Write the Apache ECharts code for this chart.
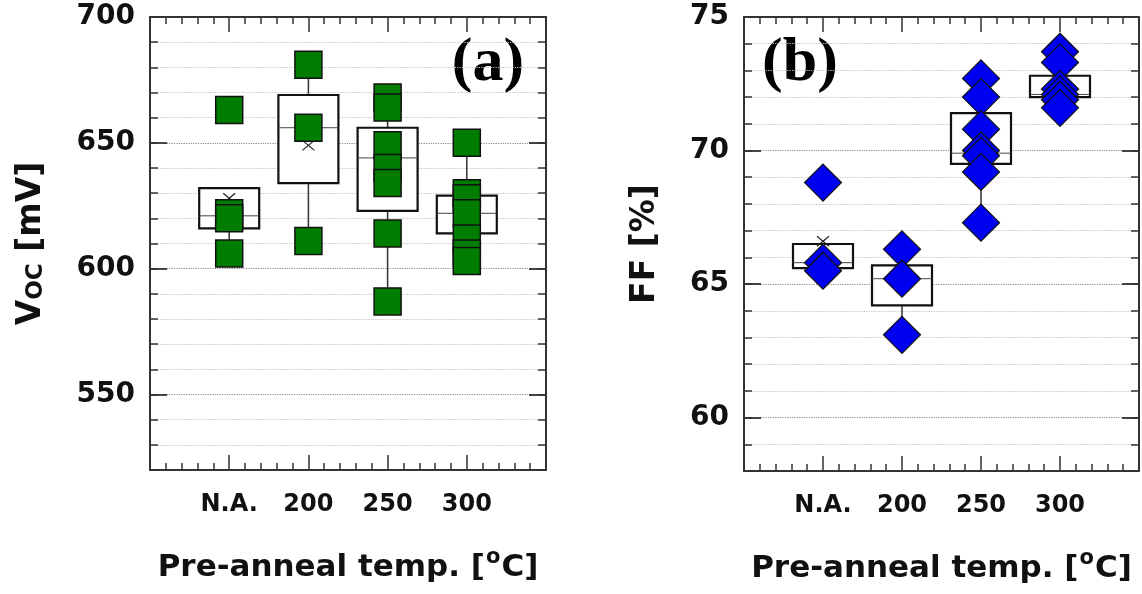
<!DOCTYPE html>
<html><head><meta charset="utf-8">
<script src="https://cdn.jsdelivr.net/npm/echarts@6/dist/echarts.min.js"></script>
<style>html,body{margin:0;padding:0;background:#fff}#c{width:1142px;height:594px}</style>
</head><body><div id="c"></div>
<script>
// ---- data ----
const categories = ['N.A.', '200', '250', '300'];
// Voc [mV] individual cells
const vocPoints = [
  [663, 622, 620, 606],
  [681, 656, 611],
  [668, 664, 649, 640, 634, 614, 587],
  [650, 630, 628, 622, 612, 606, 603]
];
// box stats: [lower whisker, Q1, median, Q3, upper whisker]
const vocBox = [
  [606, 616, 621, 632, 632],
  [611, 634, 656, 669, 681],
  [587, 623, 644, 656, 668],
  [603, 614, 622, 629, 650]
];
const vocMean = [628, 649, 637, 622];
// FF [%] individual cells
const ffPoints = [
  [68.8, 65.8, 65.5],
  [66.3, 65.2, 63.1],
  [72.7, 72.0, 70.8, 70.0, 69.8, 69.2, 67.3],
  [73.7, 73.3, 72.3, 72.1, 71.9, 71.6]
];
const ffBox = [
  [65.5, 65.6, 65.8, 66.5, 66.5],
  [63.1, 64.2, 65.2, 65.7, 66.3],
  [67.3, 69.5, 69.9, 71.4, 72.7],
  [71.6, 72.0, 72.1, 72.8, 73.7]
];
const ffMean = [66.6, 64.9, 70.2, 72.5];
const vocTickLabels = [550, 600, 650, 700];
const vocMajorTicks = [550, 600, 650];
const ffTickLabels = [60, 65, 70, 75];
const ffMajorTicks = [60, 65, 70];

// ---- build ----
const FONT = '"DejaVu Sans", sans-serif';
const toPts = arr => arr.flatMap((vals, i) => vals.map(v => [i + 1, v]));
const toBox = (box, mean) => box.map((b, i) => [i + 1].concat(b, [mean[i]]));

function boxRender(params, api) {
  const x = api.value(0);
  const lo = api.coord([x, api.value(1)]);
  const q1 = api.coord([x, api.value(2)]);
  const md = api.coord([x, api.value(3)]);
  const q3 = api.coord([x, api.value(4)]);
  const hi = api.coord([x, api.value(5)]);
  const mn = api.coord([x, api.value(6)]);
  const hw = 30, cx = q1[0];
  const wl = {stroke: '#333', lineWidth: 1.5};
  const ml = {stroke: '#222', lineWidth: 1.2};
  return {type: 'group', children: [
    {type: 'line', shape: {x1: cx, y1: q3[1], x2: cx, y2: hi[1]}, style: wl},
    {type: 'line', shape: {x1: cx, y1: q1[1], x2: cx, y2: lo[1]}, style: wl},
    {type: 'rect', shape: {x: cx - hw, y: q3[1], width: 2 * hw, height: q1[1] - q3[1]},
      style: {fill: '#fff', stroke: '#111', lineWidth: 2.2}},
    {type: 'line', shape: {x1: cx - hw, y1: md[1], x2: cx + hw, y2: md[1]}, style: {stroke: '#444', lineWidth: 1}},
    {type: 'line', shape: {x1: cx - 6, y1: mn[1] - 5, x2: cx + 6, y2: mn[1] + 5}, style: ml},
    {type: 'line', shape: {x1: cx - 6, y1: mn[1] + 5, x2: cx + 6, y2: mn[1] - 5}, style: ml}
  ]};
}

const axisLineStyle = {color: '#333', width: 2};
function xAxes(gridIndex) {
  const base = {
    type: 'value', gridIndex, min: 0, max: 5, interval: 1,
    axisLine: {show: true, onZero: false, lineStyle: axisLineStyle},
    axisTick: {show: true, inside: true, length: 15, lineStyle: {color: '#333', width: 1.5}},
    minorTick: {show: true, splitNumber: 5, length: 7, lineStyle: {color: '#333', width: 1.5}},
    splitLine: {show: false}
  };
  return [
    Object.assign({}, base, {
      position: 'bottom',
      axisLabel: {show: true, margin: 23, fontFamily: FONT, fontWeight: 'bold', fontSize: 24, color: '#111',
        formatter: v => (v >= 1 && v <= categories.length) ? categories[v - 1] : ''},
      name: 'Pre-anneal temp. [{sup|o}C]', nameLocation: 'middle', nameGap: 77,
      nameTextStyle: {fontFamily: FONT, fontWeight: 'bold', fontSize: 31, color: '#111',
        rich: {sup: {fontFamily: FONT, fontWeight: 'bold', fontSize: 21, color: '#111', verticalAlign: 'top', padding: [0, 1, 20, 1]}}}
    }),
    Object.assign({}, base, {position: 'top', axisLabel: {show: false}})
  ];
}
function yAxes(gridIndex, min, max, step, labels, majors, gridColors, name, nameGap, rich) {
  const base = {type: 'value', gridIndex, min, max, interval: step};
  const minorTick = {show: true, inside: true, length: 8, lineStyle: {color: '#333', width: 1.5}};
  const majorTick = {show: true, inside: true, length: 17, customValues: majors, lineStyle: {color: '#333', width: 1.8}};
  return [
    Object.assign({}, base, {
      position: 'left',
      axisLine: {show: true, lineStyle: axisLineStyle},
      axisTick: minorTick,
      axisLabel: {show: true, margin: 15, fontFamily: FONT, fontWeight: 'bold', fontSize: 28, color: '#111',
        formatter: v => labels.indexOf(v) >= 0 ? String(v) : ''},
      splitLine: {show: true, lineStyle: {color: gridColors, type: 'dotted', width: 1.2}},
      name, nameLocation: 'middle', nameGap,
      nameTextStyle: {fontFamily: FONT, fontWeight: 'bold', fontSize: 33, color: '#111', rich}
    }),
    Object.assign({}, base, {position: 'left', axisLine: {show: false}, axisTick: majorTick,
      axisLabel: {show: false}, splitLine: {show: false}}),
    Object.assign({}, base, {position: 'right', axisLine: {show: true, lineStyle: axisLineStyle},
      axisTick: minorTick, axisLabel: {show: false}, splitLine: {show: false}}),
    Object.assign({}, base, {position: 'right', axisLine: {show: false}, axisTick: majorTick,
      axisLabel: {show: false}, splitLine: {show: false}})
  ];
}
const L = '#c4c4c4', D = '#8a8a8a';
const option = {
  backgroundColor: '#fff',
  animation: false,
  grid: [
    {left: 150, top: 17, width: 396, height: 453},
    {left: 744, top: 17, width: 395, height: 454}
  ],
  xAxis: xAxes(0).concat(xAxes(1)),
  yAxis: yAxes(0, 520, 700, 10, vocTickLabels, vocMajorTicks, [L, L, L, D, L],
      'V{sub|OC} [mV]', 102,
      {sub: {fontFamily: FONT, fontWeight: 'bold', fontSize: 23, color: '#111', verticalAlign: 'bottom', padding: [9, 0, 0, 0]}})
    .concat(yAxes(1, 58, 75, 1, ffTickLabels, ffMajorTicks, [L, L, D, L, L], 'FF [%]', 82, {})),
  graphic: [
    {type: 'text', x: 488, y: 64, style: {text: '(a)', fontFamily: '"Liberation Serif", serif', fontWeight: 'bold', fontSize: 62, fill: '#000', textAlign: 'center', textVerticalAlign: 'middle'}},
    {type: 'text', x: 800, y: 64, style: {text: '(b)', fontFamily: '"Liberation Serif", serif', fontWeight: 'bold', fontSize: 62, fill: '#000', textAlign: 'center', textVerticalAlign: 'middle'}}
  ],
  series: [
    {type: 'custom', name: 'Voc box', xAxisIndex: 0, yAxisIndex: 0, z: 2, renderItem: boxRender,
      data: toBox(vocBox, vocMean), clip: false},
    {type: 'scatter', name: 'Voc', xAxisIndex: 0, yAxisIndex: 0, z: 3, symbol: 'rect', symbolSize: 27,
      itemStyle: {color: '#007d00', borderColor: '#111', borderWidth: 1.5, opacity: 1}, data: toPts(vocPoints)},
    {type: 'custom', name: 'FF box', xAxisIndex: 2, yAxisIndex: 4, z: 2, renderItem: boxRender,
      data: toBox(ffBox, ffMean), clip: false},
    {type: 'scatter', name: 'FF', xAxisIndex: 2, yAxisIndex: 4, z: 3, symbol: 'diamond', symbolSize: 37,
      itemStyle: {color: '#0000f0', borderColor: '#111', borderWidth: 1.2, opacity: 1}, data: toPts(ffPoints)}
  ]
};
const chart = echarts.init(document.getElementById('c'), null, {renderer: 'canvas'});
chart.setOption(option);
</script>
</body></html>
